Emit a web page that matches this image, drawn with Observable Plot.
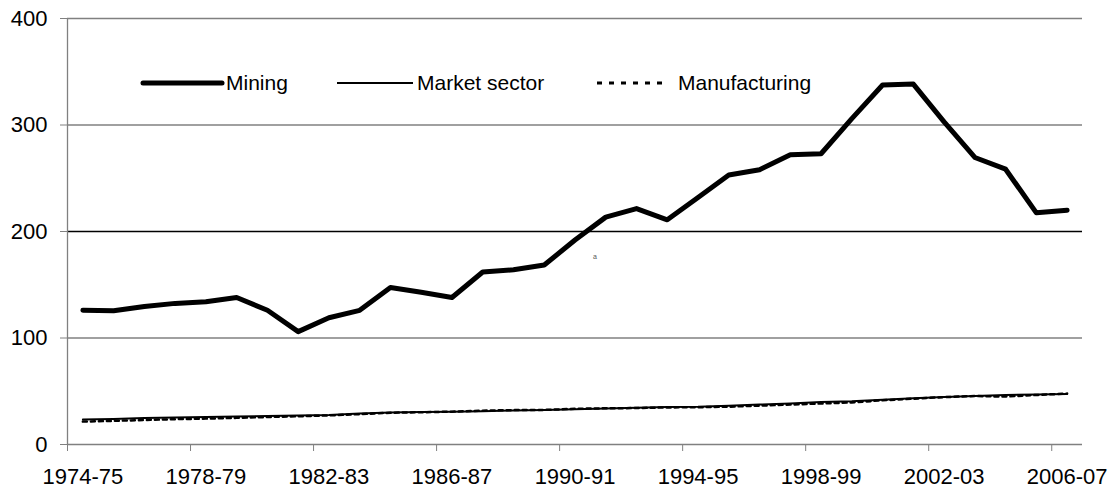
<!DOCTYPE html>
<html><head><meta charset="utf-8">
<script src="https://cdn.jsdelivr.net/npm/d3@7"></script>
<script src="https://cdn.jsdelivr.net/npm/@observablehq/plot@0.6"></script>
<style>
body{margin:0;background:#fff;}
#wrap{position:relative;width:1119px;height:493px;font-family:"Liberation Sans",Arial,sans-serif;color:#000;}
.legtxt{position:absolute;font-size:21px;line-height:1;white-space:nowrap;}
.legsvg{position:absolute;overflow:visible;}
.note{position:absolute;font-size:7px;color:#555;}
</style></head><body><div id="wrap"></div>
<script>
const years = ["1974-75","1975-76","1976-77","1977-78","1978-79","1979-80","1980-81","1981-82","1982-83","1983-84","1984-85","1985-86","1986-87","1987-88","1988-89","1989-90","1990-91","1991-92","1992-93","1993-94","1994-95","1995-96","1996-97","1997-98","1998-99","1999-00","2000-01","2001-02","2002-03","2003-04","2004-05","2005-06","2006-07"];
const mining = [126,125.5,129.5,132.5,134,138,126,106,119,126,147.5,143,138,162,164,168.5,192,213.5,221.5,211,232,253,258,272,273,306,337.5,338.4,303,269.5,258.5,217.5,220];
const marketSector = [23.5,24,24.8,25.3,25.8,26.2,26.7,27.3,27.8,29,30,30.5,30.8,31.3,32,32.5,33.2,33.8,34.5,35.2,35.5,36.5,37.5,38.5,39.8,40.5,42,43.5,44.5,45.5,46.5,47,47.5];
const manufacturing = [21.5,22.2,23,23.8,24.3,25,25.8,26.5,27.3,28.5,29.8,30.3,30.8,31.8,32.3,32.5,33.5,34,34.2,34.8,35,35.5,36.5,37.5,38.5,39.5,41.5,43,44.5,45.5,45,46.5,47.8];
const yTicks = [0,100,200,300,400];
const labelIdx = [0,4,8,12,16,20,24,28,32];
const seriesNames = ["Mining","Market sector","Manufacturing"];

const toRows = arr => years.map((yr,i)=>({i, yr, v: arr[i]}));
const boundaries = labelIdx.map(i => i - 0.5);

const chart = Plot.plot({
  width: 1119, height: 493,
  marginLeft: 67, marginRight: 37, marginTop: 18, marginBottom: 49,
  style: {fontFamily: "'Liberation Sans', Arial, sans-serif", fontSize: "22px", color: "#000", background: "#fff", overflow: "visible"},
  x: {type: "linear", domain: [-0.5, 32.5]},
  y: {domain: [0, 400]},
  marks: [
    Plot.ruleY([100, 300, 400], {stroke: "#808080", strokeWidth: 1.3}),
    Plot.ruleY([200], {stroke: "#000", strokeWidth: 1.3}),
    Plot.ruleY([0], {stroke: "#808080", strokeWidth: 1.3}),
    Plot.ruleX([-0.5], {stroke: "#808080", strokeWidth: 1.3}),
    Plot.axisY({ticks: yTicks, tickSize: 7, tickPadding: 13, stroke: "#808080", fill: "#000", label: null, fontSize: 22}),
    Plot.axisX({ticks: labelIdx, tickSize: 0, tickPadding: 24, tickFormat: i => years[i], label: null, fill: "#000", fontSize: 22}),
    Plot.axisX({ticks: boundaries, tickSize: 7, tickPadding: 0, tickFormat: () => "", stroke: "#808080", label: null}),
    Plot.line(toRows(mining), {x: "i", y: "v", stroke: "#000", strokeWidth: 5, strokeLinejoin: "round", strokeLinecap: "round"}),
    Plot.line(toRows(marketSector), {x: "i", y: "v", stroke: "#000", strokeWidth: 2}),
    Plot.line(toRows(manufacturing), {x: "i", y: "v", stroke: "#000", strokeWidth: 2.5, strokeDasharray: "4,4"})
  ]
});
const wrap = document.getElementById("wrap");
wrap.appendChild(chart);

// legend overlay
const leg = [
  {name: seriesNames[0], x1: 143, x2: 222, tx: 226, w: 5, dash: null, cap: "round"},
  {name: seriesNames[1], x1: 337, x2: 413, tx: 417, w: 2, dash: null, cap: "butt"},
  {name: seriesNames[2], x1: 597, x2: 664, tx: 678, w: 3, dash: "5,7", cap: "butt"}
];
const ly = 83;
leg.forEach(d => {
  const svg = document.createElementNS("http://www.w3.org/2000/svg", "svg");
  svg.setAttribute("class", "legsvg");
  svg.setAttribute("width", d.x2 - d.x1 + 10);
  svg.setAttribute("height", 10);
  svg.style.left = (d.x1 - 5) + "px";
  svg.style.top = (ly - 5) + "px";
  const ln = document.createElementNS("http://www.w3.org/2000/svg", "line");
  ln.setAttribute("x1", 5); ln.setAttribute("x2", d.x2 - d.x1 + 5);
  ln.setAttribute("y1", 5); ln.setAttribute("y2", 5);
  ln.setAttribute("stroke", "#000"); ln.setAttribute("stroke-width", d.w);
  ln.setAttribute("stroke-linecap", d.cap);
  if (d.dash) ln.setAttribute("stroke-dasharray", d.dash);
  svg.appendChild(ln);
  wrap.appendChild(svg);
  const t = document.createElement("div");
  t.className = "legtxt";
  t.textContent = d.name;
  t.style.left = d.tx + "px";
  t.style.top = (ly - 11) + "px";
  wrap.appendChild(t);
});
const note = document.createElement("div");
note.className = "note";
note.textContent = "a";
note.style.left = "593px";
note.style.top = "253px";
wrap.appendChild(note);
</script>
</body></html>
